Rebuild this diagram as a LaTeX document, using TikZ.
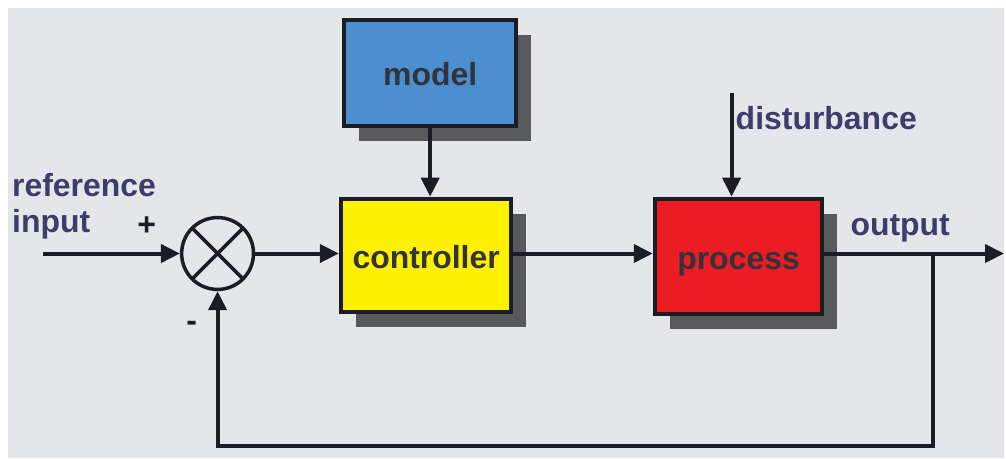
\documentclass[tikz,border=0pt]{standalone}
\usepackage{fontspec}
\setmainfont{Liberation Sans}
\usetikzlibrary{arrows.meta,shadows,calc}

\definecolor{diagramBackgroundColour}{HTML}{E4E6EA}
\definecolor{modelColour}{HTML}{4B8FD1}
\definecolor{controllerColour}{HTML}{FFF200}
\definecolor{processColour}{HTML}{EC1C24}
\definecolor{shadowColour}{HTML}{58595B}
\definecolor{labelColour}{HTML}{3B3D6B}
\definecolor{lineColour}{HTML}{1C1C24}

\tikzset{
	block/.style={draw=lineColour,line width=4pt,inner sep=0pt,font=\fontsize{32}{38}\selectfont\bfseries,text=lineColour!90,
		text height=30pt,text depth=4pt,
		drop shadow={shadow xshift=15pt,shadow yshift=-15pt,fill=shadowColour,opacity=1}},
	signal/.style={line width=4pt,draw=lineColour,-{Triangle[length=19pt,width=18pt]}},
	label/.style={inner sep=0pt,font=\fontsize{32}{38}\selectfont\bfseries,text=labelColour},
}

\begin{document}
\begin{tikzpicture}[x=1pt,y=-1pt]
\fill[white] (0,0) rectangle (1006,459);
\fill[diagramBackgroundColour] (8,8) rectangle (1006,459);

\node[block,fill=modelColour,minimum width=172pt,minimum height=106pt] (model) at (431,73) {model};
\node[block,fill=controllerColour,minimum width=171pt,minimum height=114pt] (ctrl) at (427,256) {controller};
\node[block,fill=processColour,minimum width=168pt,minimum height=116pt] (proc) at (740,257) {process};
\node[draw=lineColour,line width=3.5pt,circle,minimum size=72pt,inner sep=0pt,
	path picture={\draw[lineColour,line width=3.5pt] (path picture bounding box.north west) -- (path picture bounding box.south east)
		(path picture bounding box.north east) -- (path picture bounding box.south west);}] (sum) at (218,254) {};

% labels
\node[label,anchor=base west] (refA) at (12,197) {reference};
\node[label,anchor=base west] (refB) at (12,233) {input};
\node[label,text=lineColour,anchor=base] (plus) at (147,236) {+};
\node[label,text=lineColour,anchor=base] (minus) at (192,332) {-};
\node[label,anchor=base west] (dlabel) at (737,130) {disturbance};
\node[label,anchor=base west] (olabel) at (852,236) {output};

\coordinate (in) at (43,254);
\coordinate (dist) at (733,93);
\coordinate (out) at (1006,254);
\coordinate (tap) at (935,254);
\coordinate (fb) at (218,447);

\draw[signal] (in) -- (sum.west);
\draw[signal] (sum.east) -- (sum -| ctrl.west);
\draw[signal] (model.south) -- (model.south |- ctrl.north);
\draw[signal] (sum -| ctrl.east) -- (sum -| proc.west);
\draw[signal] (dist) -- (dist |- proc.north);
\draw[signal] (sum -| proc.east) -- (out);
\draw[signal,line join=miter] (tap) |- (fb) -- (sum.south);
\end{tikzpicture}
\end{document}
